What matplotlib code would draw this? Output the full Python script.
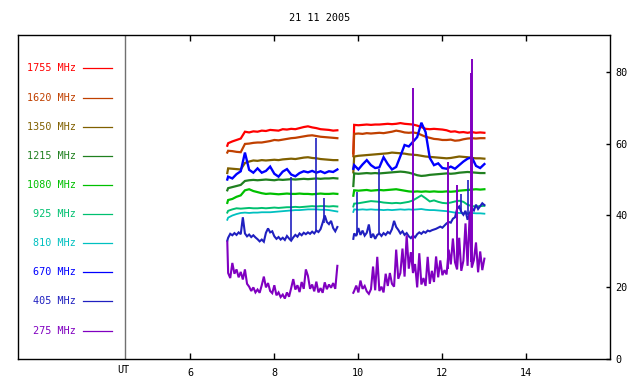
import numpy as np
import matplotlib
matplotlib.use("Agg")
import matplotlib.pyplot as plt

# ---------------- data ----------------
title = "21 11 2005"
freqs = ["1755 MHz", "1620 MHz", "1350 MHz", "1215 MHz", "1080 MHz",
         "925 MHz", "810 MHz", "670 MHz", "405 MHz", "275 MHz"]
colors = ["#ff0000", "#c04000", "#806000", "#208020", "#00c000",
          "#00c070", "#00c0c0", "#0000ff", "#2020c0", "#8000c0"]
xticks = [6, 8, 10, 12, 14]
yticks = [0, 20, 40, 60, 80]

# coarse time grids (hours UT)
t1 = [6.88] + [round(v, 2) for v in np.arange(6.9, 9.501, 0.1)]
t2 = [9.88] + [round(v, 2) for v in np.arange(9.9, 13.001, 0.1)]
# fine time grids for noisy channels
tf1 = [6.88] + [round(v, 2) for v in np.arange(6.9, 9.501, 0.05)]
tf2 = [9.88] + [round(v, 2) for v in np.arange(9.9, 13.001, 0.05)]

s1755_a = [59.4, 60.1, 60.6, 61.0, 61.4, 63.3, 63.1, 63.4, 63.3, 63.6, 63.5, 63.8, 63.7, 63.6,
           64.0, 63.9, 64.1, 64.0, 64.3, 64.6, 64.8, 64.5, 64.3, 64.0, 63.9, 63.8, 63.6, 63.7]
s1755_b = [57.3, 65.2, 65.1, 65.2, 65.3, 65.2, 65.3, 65.3, 65.4, 65.5, 65.4, 65.5, 65.7, 65.5,
           65.4, 65.3, 65.0, 64.6, 64.1, 64.0, 64.1, 64.0, 63.9, 63.7, 63.3, 63.4, 63.1, 63.2,
           63.0, 63.2, 63.0, 63.1, 63.0]
s1620_a = [57.5, 58.0, 57.9, 57.7, 57.6, 59.9, 60.0, 60.2, 60.3, 60.3, 60.5, 60.7, 61.0, 60.9,
           61.1, 61.3, 61.5, 61.6, 61.8, 62.0, 62.2, 62.3, 62.1, 61.9, 61.8, 61.7, 61.6, 61.5]
s1620_b = [56.5, 62.7, 62.8, 62.7, 62.9, 62.8, 62.9, 63.0, 62.9, 63.1, 63.3, 63.6, 63.4, 63.1,
           63.0, 63.1, 62.9, 62.4, 61.9, 61.6, 61.3, 61.2, 61.0, 61.0, 61.1, 60.8, 60.9, 61.2,
           61.4, 61.5, 61.4, 61.5, 61.5]
s1350_a = [51.8, 53.1, 53.0, 52.9, 52.8, 54.6, 55.0, 55.3, 55.2, 55.4, 55.3, 55.4, 55.5, 55.4,
           55.6, 55.7, 55.8, 55.7, 55.9, 56.1, 56.2, 56.0, 55.9, 55.7, 55.6, 55.5, 55.4, 55.4]
s1350_b = [52.0, 56.4, 56.6, 56.7, 56.8, 56.9, 57.0, 57.1, 57.2, 57.3, 57.5, 57.4, 57.3, 57.2,
           57.0, 56.9, 56.8, 56.6, 56.4, 56.3, 56.2, 56.1, 56.0, 55.9, 56.0, 56.2, 56.4, 56.3,
           56.2, 56.0, 55.9, 55.9, 55.8]
s1215_a = [47.0, 47.6, 47.9, 48.2, 48.5, 49.6, 49.8, 49.9, 49.8, 49.9, 50.0, 49.9, 49.8, 50.0,
           49.9, 50.0, 50.1, 50.0, 50.1, 50.2, 50.1, 50.2, 50.3, 50.2, 50.3, 50.3, 50.4, 50.3]
s1215_b = [48.2, 51.7, 51.6, 51.7, 51.8, 51.7, 51.8, 51.7, 51.8, 51.9, 52.0, 52.1, 52.2, 52.1,
           51.9, 51.6, 51.2, 51.0, 51.1, 51.3, 51.4, 51.5, 51.6, 51.7, 51.6, 51.7, 51.9, 52.0,
           52.1, 52.0, 51.9, 51.8, 51.8]
s1080_a = [43.5, 44.3, 44.6, 45.2, 45.6, 47.0, 47.3, 46.8, 46.5, 46.2, 46.0, 46.1, 46.0, 45.9,
           46.0, 46.1, 46.0, 46.0, 46.1, 46.0, 46.0, 45.9, 46.0, 46.1, 46.0, 46.0, 46.1, 46.0]
s1080_b = [45.5, 47.0, 46.9, 47.0, 47.1, 46.9, 47.0, 47.1, 47.0, 47.1, 47.2, 47.3, 47.1, 46.9,
           46.7, 46.6, 46.7, 46.6, 46.7, 46.6, 46.7, 46.6, 46.6, 46.7, 46.6, 46.7, 46.9, 47.0,
           47.1, 47.2, 47.3, 47.2, 47.3]
s925_a = [40.8, 41.3, 41.7, 42.0, 41.9, 42.0, 42.1, 42.0, 42.0, 42.1, 42.0, 42.1, 42.2, 42.1,
          42.2, 42.3, 42.3, 42.4, 42.3, 42.4, 42.5, 42.6, 42.5, 42.6, 42.6, 42.5, 42.6, 42.5]
s925_b = [42.5, 43.3, 43.4, 43.6, 43.8, 44.0, 43.9, 43.8, 43.6, 43.5, 43.4, 43.5, 43.4, 43.6,
          43.8, 44.2, 44.9, 45.6, 44.8, 43.9, 44.2, 43.8, 43.5, 43.4, 43.6, 43.9, 44.1, 43.8,
          43.0, 42.6, 42.5, 42.6, 42.7]
s810_a = [38.8, 39.4, 40.0, 40.4, 40.7, 40.8, 40.7, 40.8, 40.8, 40.9, 40.9, 40.9, 41.0, 41.1,
          41.2, 41.3, 41.4, 41.5, 41.5, 41.6, 41.7, 41.7, 41.7, 41.6, 41.6, 41.5, 41.3, 41.1]
s810_b = [41.0, 41.7, 41.6, 41.7, 41.6, 41.7, 41.6, 41.6, 41.5, 41.6, 41.5, 41.6, 41.7, 41.6,
          41.7, 41.6, 41.7, 41.8, 41.6, 41.5, 41.5, 41.4, 41.3, 41.2, 41.0, 40.8, 40.7, 40.6,
          40.6, 40.7, 40.6, 40.6, 40.5]
s670_a = [50.0, 50.8, 50.3, 51.5, 52.3, 57.5, 52.7, 51.9, 53.1, 51.9, 52.4, 53.6, 51.6, 50.8,
          52.2, 52.9, 51.4, 50.9, 51.8, 52.3, 52.0, 52.4, 51.9, 52.3, 51.8, 52.3, 52.1, 52.8]
s670_b = [53.0, 54.0, 52.8, 54.2, 55.4, 54.0, 53.2, 53.4, 56.2, 54.3, 52.8, 53.5, 56.5, 59.6,
          59.2, 60.5, 61.8, 65.8, 63.2, 56.0, 54.0, 54.5, 53.2, 53.0, 53.6, 53.0, 54.0, 55.0,
          55.8, 56.2, 53.8, 53.2, 54.3]
s405_a = [33.0, 33.8, 34.9, 34.5, 35.1, 34.6, 35.3, 34.8, 39.5, 35.0, 34.2, 34.7, 34.0, 34.5,
          33.9, 33.4, 32.8, 33.3, 32.7, 35.2, 36.4, 35.3, 35.6, 34.2, 33.5, 34.0, 33.3, 33.8,
          33.2, 34.3, 33.6, 33.0, 33.9, 34.6, 34.1, 35.0, 34.5, 35.2, 34.8, 35.3, 34.9, 35.5,
          35.0, 35.8, 35.4, 36.2, 38.0, 40.0, 38.2, 37.6, 38.5, 36.5, 35.6, 36.8]
s405_b = [33.5, 35.0, 34.3, 36.5, 34.6, 35.8, 34.4, 35.2, 37.5, 33.8, 34.9,
          33.5, 34.6, 35.0, 34.3, 35.1, 34.6, 35.4, 35.0, 36.2, 38.5,
          36.8, 36.0, 35.0, 35.6, 34.6, 35.1, 34.2, 33.7, 34.4, 33.9,
          34.8, 35.3, 34.9, 35.5, 35.2, 35.8, 35.6, 35.9, 36.1, 36.3,
          36.6, 36.9, 36.6, 37.2, 37.8, 38.2, 38.0, 39.1, 39.5, 41.8,
          42.5, 41.0, 40.2, 41.3, 38.8, 40.6, 42.0, 41.4, 43.0, 41.8,
          42.6, 43.4, 42.9]
s275_a = [32.7, 24.0, 22.6, 26.8, 23.8, 25.0, 22.8, 24.3, 22.2, 25.0, 21.0,
          20.2, 19.0, 20.0, 18.6, 19.4, 18.5, 20.6, 23.0, 20.0, 21.2,
          19.0, 18.4, 20.6, 17.8, 18.6, 17.3, 18.0, 16.9, 18.6, 17.4,
          19.8, 22.3, 19.4, 20.6, 18.7, 21.5, 19.6, 25.0, 23.2, 19.6,
          20.8, 18.9, 21.6, 18.6, 19.8, 18.5, 21.4, 19.5, 20.8, 19.9,
          21.2, 19.6, 26.0]
s275_b = [18.5, 19.0, 20.5, 18.6, 21.9, 19.6, 20.4, 18.9, 18.2, 19.5, 25.8,
          19.2, 28.5, 19.0, 20.2, 18.6, 23.8, 20.4, 24.0, 21.0, 20.2,
          30.5, 22.4, 24.0, 30.8, 23.0, 34.5, 25.2, 29.8, 24.0, 26.5,
          20.0, 29.5, 20.8, 22.6, 20.4, 28.5, 21.0, 24.6, 21.5, 28.6,
          22.8, 27.5, 23.4, 24.8, 23.6, 30.5, 26.4, 33.6, 27.0, 25.0,
          33.8, 24.6, 27.4, 37.8, 26.0, 40.5, 25.5, 27.6, 32.5, 24.2,
          30.0, 24.8, 28.0]

# isolated spikes (time, base, peak)
sp405_t = [8.39, 8.99, 9.18, 9.96, 10.50, 12.45, 12.62]
sp405_lo = [33.5, 35.5, 38.0, 34.5, 35.0, 41.0, 40.0]
sp405_hi = [50.8, 61.5, 44.8, 46.6, 53.0, 46.0, 49.9]
sp275_t = [11.29, 12.13, 12.34, 12.69, 12.71]
sp275_lo = [24.0, 25.0, 25.0, 27.0, 27.0]
sp275_hi = [75.4, 55.0, 48.5, 79.6, 83.5]

series = [
    (t1, s1755_a, t2, s1755_b), (t1, s1620_a, t2, s1620_b),
    (t1, s1350_a, t2, s1350_b), (t1, s1215_a, t2, s1215_b),
    (t1, s1080_a, t2, s1080_b), (t1, s925_a, t2, s925_b),
    (t1, s810_a, t2, s810_b), (t1, s670_a, t2, s670_b),
    (tf1, s405_a, tf2, s405_b), (tf1, s275_a, tf2, s275_b),
]
widths = [1.6, 1.6, 1.6, 1.6, 1.6, 1.4, 1.3, 1.7, 1.5, 1.5]

# ---------------- plot ----------------
mono = "DejaVu Sans Mono"
fig = plt.figure(figsize=(6.4, 3.84), dpi=100)
ax = fig.add_axes([18.3 / 640, 1 - 359.3 / 384, (610 - 18.3) / 640, (359.3 - 35) / 384])
ax.set_xlim(1.905, 15.99)
ax.set_ylim(0, 90.2)

for (ta, ya, tb, yb), c, lw in zip(series, colors, widths):
    ax.plot(ta, ya, color=c, lw=lw, solid_joinstyle="miter")
    ax.plot(tb, yb, color=c, lw=lw, solid_joinstyle="miter")

ax.vlines(sp405_t, sp405_lo, sp405_hi, color=colors[8], lw=1.2)
ax.vlines(sp275_t, sp275_lo, sp275_hi, color=colors[9], lw=1.4)

# legend (left panel)
for i, (lab, c) in enumerate(zip(freqs, colors)):
    yv = 80.9 - 8.1 * i
    ax.text(3.28, yv, lab, color=c, fontsize=7.3, family=mono,
            ha="right", va="center")
    ax.plot([3.445, 4.136], [yv, yv], color=c, lw=0.9)

ax.axvline(4.45, color="#707070", lw=1.0)
ax.text(4.4, -1.5, "UT", fontsize=7.3, family=mono, ha="center", va="top")

for s in ax.spines.values():
    s.set_color("black")
    s.set_linewidth(1.0)

ax.set_xticks(xticks)
ax.set_xticklabels([str(v) for v in xticks], family=mono, fontsize=7.3)
ax.tick_params(axis="x", direction="in", length=4, top=True, bottom=True,
               width=1, pad=6)
ax.yaxis.tick_right()
ax.set_yticks(yticks)
ax.set_yticklabels([str(v) for v in yticks], family=mono, fontsize=7.3)
ax.tick_params(axis="y", direction="in", length=3, right=True, left=False,
               labelright=True, labelleft=False, width=1, pad=4)

fig.text(0.5, 1 - 18 / 384, title, ha="center", va="center",
         fontsize=7.3, family=mono)

fig.savefig("out.png", dpi=100)
